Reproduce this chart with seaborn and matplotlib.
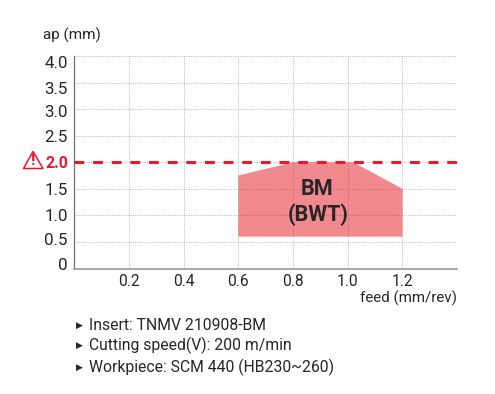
import matplotlib
matplotlib.use('Agg')
import matplotlib.pyplot as plt
import matplotlib.transforms as mtrans
from matplotlib.patches import Polygon
import pandas as pd
import seaborn as sns

sns.set_theme(style='white')
plt.rcParams['font.family'] = ['Roboto', 'DejaVu Sans']

# Data
feed_ticks = [0.2, 0.4, 0.6, 0.8, 1.0, 1.2]
grid_x = [0.2, 0.4, 0.6, 0.8, 1.0, 1.2, 1.4]
ap_ticks = [0, 0.5, 1.0, 1.5, 2.0, 2.5, 3.0, 3.5, 4.0]
ap_labels = ['0', '0.5', '1.0', '1.5', '2.0', '2.5', '3.0', '3.5', '4.0']
region_feed = [0.6, 0.6, 0.8, 1.02, 1.2, 1.2]
region_ap = [0.6, 1.75, 2.0, 2.0, 1.5, 0.6]
limit_feed = [0, 1.4]
limit_ap = [2.0, 2.0]
notes = ['Insert: TNMV 210908-BM', 'Cutting speed(V): 200 m/min', 'Workpiece: SCM 440 (HB230~260)']

RED = '#E8192C'
TXT = '#262626'
W, H = 495, 394

fig = plt.figure(figsize=(W / 100, H / 100), dpi=100)
ax = fig.add_axes([74.2 / W, 1 - 268.5 / H, 383 / W, 212.5 / H])

# Operating region
ax.fill(region_feed, region_ap, color='#E31721', alpha=0.5, lw=0, zorder=2)

# Recommended depth limit
df_limit = pd.DataFrame({'feed': limit_feed, 'ap': limit_ap})
sns.lineplot(data=df_limit, x='feed', y='ap', ax=ax, color=RED, lw=2.2, zorder=3,
             dashes=(3.2, 2.9), errorbar=None, clip_on=False)
ax.lines[-1].set_dash_capstyle('butt')

ax.set_xlim(0, 1.4)
ax.set_ylim(0, 4.0)
ax.set_xlabel('')
ax.set_ylabel('')
ax.set_xticks(grid_x)
ax.set_xticklabels([str(v) if v in feed_ticks else '' for v in grid_x], fontsize=11.2, color=TXT)
ax.set_yticks(ap_ticks)
ax.set_yticklabels(ap_labels, fontsize=12.2, color=TXT)
ax.tick_params(axis='both', length=0)
ax.tick_params(axis='x', pad=4)
ax.tick_params(axis='y', pad=4.5)
ax.grid(True, color='#c0c0c0', lw=0.7, ls=(0, (1.2, 1.2)), zorder=1)
ax.set_axisbelow(True)

# y tick labels do not sit exactly on their gridlines in the original
label_shift = [5, 3, 0, 0, 0, 0, -2, -5, -6]
for lab, dy in zip(ax.get_yticklabels(), label_shift):
    lab.set_transform(lab.get_transform() + mtrans.Affine2D().translate(0, dy))
    if lab.get_text() == '2.0':
        lab.set_color(RED)
        lab.set_fontweight('bold')
        lab.set_fontsize(11.4)

for side in ['top', 'right']:
    ax.spines[side].set_visible(False)
ax.spines['left'].set_color('#707070')
ax.spines['left'].set_linewidth(0.9)
ax.spines['bottom'].set_color('#9a9a9a')
ax.spines['bottom'].set_linewidth(1.2)

ax.text(0.889, 1.5, 'BM', ha='center', va='center', fontsize=15.5, fontweight='bold', color=TXT, zorder=4)
ax.text(0.892, 1.02, '(BWT)', ha='center', va='center', fontsize=15.5, fontweight='bold', color=TXT, zorder=4)

fig.text(43 / W, 1 - 35.5 / H, 'ap (mm)', fontsize=11, color=TXT, ha='left', va='center')
fig.text(457 / W, 1 - 298 / H, 'feed (mm/rev)', fontsize=10.9, color=TXT, ha='right', va='center')

# Warning icon
tri = Polygon([[33 / W, 1 - 151.5 / H], [43 / W, 1 - 168.5 / H], [23.5 / W, 1 - 168.5 / H]],
              closed=True, fill=False, ec=RED, lw=1.1, joinstyle='round', transform=fig.transFigure)
fig.add_artist(tri)
fig.text(33 / W, 1 - 161 / H, '!', fontsize=12, fontweight='bold', color=RED, ha='center', va='center')

# Notes below the chart
for txt, y in zip(notes, [325.5, 345.5, 367.5]):
    fig.text(76 / W, 1 - y / H, '\u25b6', fontsize=6.5, color=TXT, ha='left', va='center', family='DejaVu Sans')
    fig.text(89 / W, 1 - y / H, txt, fontsize=11.35, color=TXT, ha='left', va='center')

fig.savefig('out.png', dpi=100)
